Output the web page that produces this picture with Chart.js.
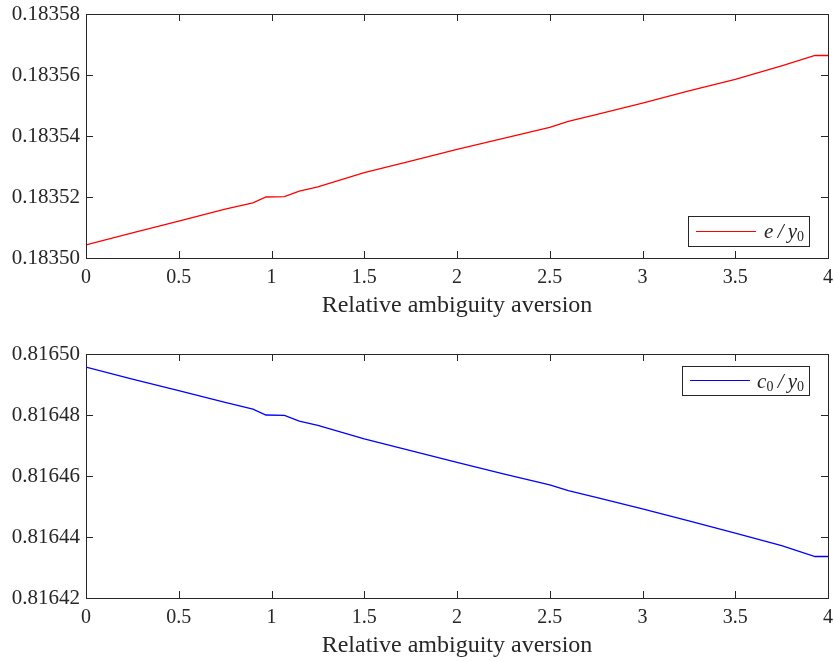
<!DOCTYPE html>
<html>
<head>
<meta charset="utf-8">
<script src="https://cdn.jsdelivr.net/npm/chart.js@4"></script>
<style>
  body { margin: 0; background: #fff; width: 834px; height: 661px; position: relative; overflow: hidden; }
  .panel { position: absolute; left: 0; width: 834px; height: 320px; }
  .legend {
    position: absolute; background: #fff; border: 1px solid #262626;
    font-family: "Liberation Serif", serif; font-size: 21px; font-style: italic; color: #262626;
    box-sizing: border-box;
  }
  .legend .swatch { position: absolute; left: 7px; width: 60px; height: 1px; }
  .legend .lbl { position: absolute; right: 5px; top: 1px; line-height: 26px; }
  .legend sub { font-style: normal; font-size: 14px; vertical-align: -3px; }
</style>
</head>
<body>
<div class="panel" style="top:0"><canvas id="topChart"></canvas></div>
<div class="panel" style="top:340px"><canvas id="bottomChart"></canvas></div>
<div class="legend" style="left:688px;top:216px;width:122px;height:31px;">
  <span class="swatch" style="top:14px;background:#ff0000"></span><span class="lbl">e&thinsp;/&thinsp;y<sub>0</sub></span>
</div>
<div class="legend" style="left:682px;top:366px;width:128px;height:30px;">
  <span class="swatch" style="top:13px;background:#0000ff"></span><span class="lbl">c<sub>0</sub>&thinsp;/&thinsp;y<sub>0</sub></span>
</div>
<script>
// datos
const aversion = [0, 0.25, 0.5, 0.75, 0.9, 0.97, 1.07, 1.15, 1.25, 1.5, 1.75, 2, 2.25, 2.5, 2.6, 2.75, 3, 3.25, 3.5, 3.75, 3.93, 4];
const eRatio = [0.1835043, 0.1835082, 0.1835121, 0.1835160, 0.1835181, 0.1835200, 0.1835201, 0.1835219, 0.1835233,
  0.1835280, 0.1835318, 0.1835356, 0.1835392, 0.1835428, 0.1835448, 0.1835470, 0.1835508, 0.1835548, 0.1835586,
  0.1835630, 0.1835664, 0.1835664];
const cRatio = [0.8164957, 0.8164918, 0.8164880, 0.8164841, 0.8164819, 0.8164800, 0.8164799, 0.8164780, 0.8164766,
  0.8164722, 0.8164683, 0.8164645, 0.8164607, 0.8164571, 0.8164552, 0.8164530, 0.8164492, 0.8164453, 0.8164413,
  0.8164372, 0.8164336, 0.8164336];
const xTicks = [0, 0.5, 1, 1.5, 2, 2.5, 3, 3.5, 4];
const eTicks = [0.18350, 0.18352, 0.18354, 0.18356, 0.18358];
const cTicks = [0.81642, 0.81644, 0.81646, 0.81648, 0.81650];

const ink = '#262626';
const serif = '"Liberation Serif", serif';

// caja y marcas hacia dentro, estilo MATLAB
function boxTicks(yTicks) {
  return {
    id: 'boxTicks',
    afterDraw(chart) {
      const { ctx, chartArea: a, scales } = chart;
      const len = 7;
      const L = Math.round(a.left), R = Math.round(a.right), T = Math.round(a.top), B = Math.round(a.bottom);
      ctx.save();
      ctx.fillStyle = ink;
      xTicks.forEach(v => {
        const px = Math.round(scales.x.getPixelForValue(v));
        ctx.fillRect(px, B - len, 1, len);
        ctx.fillRect(px, T, 1, len);
      });
      yTicks.forEach(v => {
        const py = Math.round(scales.y.getPixelForValue(v));
        ctx.fillRect(L, py, len, 1);
        ctx.fillRect(R - len, py, len, 1);
      });
      ctx.fillRect(L, T, R - L + 1, 1);
      ctx.fillRect(L, B, R - L + 1, 1);
      ctx.fillRect(L, T, 1, B - T + 1);
      ctx.fillRect(R, T, 1, B - T + 1);
      ctx.restore();
    }
  };
}

function makeChart(id, values, color, yTicks) {
  const pts = aversion.map((x, i) => ({ x: x, y: values[i] }));
  return new Chart(document.getElementById(id), {
    type: 'line',
    data: { datasets: [{ data: pts, borderColor: color, borderWidth: 1.3, pointRadius: 0, tension: 0, fill: false }] },
    options: {
      responsive: true,
      maintainAspectRatio: false,
      animation: false,
      layout: { padding: { left: 0, right: 6, top: 14, bottom: 0 } },
      plugins: { legend: { display: false }, tooltip: { enabled: false } },
      scales: {
        x: {
          type: 'linear', min: 0, max: 4,
          afterBuildTicks: s => { s.ticks = xTicks.map(v => ({ value: v })); },
          afterFit: s => { s.height = 62; s.paddingLeft = 0; s.paddingRight = 0; },
          grid: { display: false, drawTicks: false },
          border: { display: false },
          ticks: { color: ink, font: { family: serif, size: 20 }, padding: 8, maxRotation: 0, callback: v => String(v) },
          title: { display: true, text: 'Relative ambiguity aversion', color: ink, font: { family: serif, size: 24 }, padding: { top: 0, bottom: 0 } }
        },
        y: {
          min: yTicks[0], max: yTicks[yTicks.length - 1],
          afterBuildTicks: s => { s.ticks = yTicks.map(v => ({ value: v })); },
          afterFit: s => { s.width = 86; s.paddingTop = 0; s.paddingBottom = 0; },
          grid: { display: false, drawTicks: false },
          border: { display: false },
          ticks: { color: ink, font: { family: serif, size: 21 }, padding: 6, callback: v => Number(v).toFixed(5) }
        }
      }
    },
    plugins: [boxTicks(yTicks)]
  });
}

makeChart('topChart', eRatio, '#ff0000', eTicks);
makeChart('bottomChart', cRatio, '#0000ff', cTicks);
</script>
</body>
</html>
